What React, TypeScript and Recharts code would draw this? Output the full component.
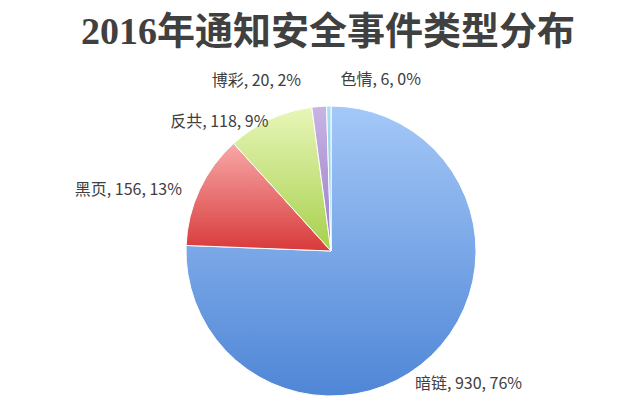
import { PieChart, Pie, Cell } from "recharts";

const categories = ["暗链", "黑页", "反共", "博彩", "色情"];
const counts = [930, 156, 118, 20, 6];
const percentLabels = ["76%", "13%", "9%", "2%", "0%"];
const gradients = [
  ["#a4c8f8", "#4f86d6"],
  ["#f8a8a8", "#d83a3a"],
  ["#e8f6b8", "#a6d04c"],
  ["#c8b4e4", "#9a7cc8"],
  ["#a8e0f0", "#62c0dc"],
];

const data = categories.map((name, i) => ({ name, value: counts[i], pct: percentLabels[i] }));

// per-slice label nudges
const nudges = [
  { dx: -34, dy: 16, anchor: "start" },
  { dx: 5, dy: 16, anchor: "end" },
  { dx: 9, dy: 30, anchor: "end" },
  { dx: -16, dy: 4, anchor: "end" },
  { dx: 12, dy: 4, anchor: "start" },
];

const RAD = Math.PI / 180;

function renderLabel(props: any) {
  const { cx, cy, midAngle, outerRadius, index } = props;
  const r = outerRadius + 25;
  const x = cx + r * Math.cos(-midAngle * RAD);
  const y = cy + r * Math.sin(-midAngle * RAD);
  const n = nudges[index];
  const d = data[index];
  return (
    <text
      x={x + n.dx}
      y={y + n.dy}
      textAnchor={n.anchor}
      fill="#404040"
      fontSize={16}
      fontFamily="'Noto Sans CJK SC', sans-serif"
    >
      {`${d.name}, ${d.value}, ${d.pct}`}
    </text>
  );
}

export default function App() {
  return (
    <div style={{ position: "absolute", left: 0, top: 0, width: 639, height: 413, background: "#fff" }}>
      <PieChart width={639} height={413}>
        <defs>
          {gradients.map((g, i) => (
            <linearGradient key={i} id={`g${i}`} x1="0" x2="0" y1="0" y2="1">
              <stop offset="0%" stopColor={g[0]} />
              <stop offset="100%" stopColor={g[1]} />
            </linearGradient>
          ))}
        </defs>
        <text
          x={328}
          y={44}
          textAnchor="middle"
          fill="#404040"
          fontSize={38}
          fontWeight="bold"
          fontFamily="'Liberation Serif', 'Noto Sans CJK SC', serif"
        >
          2016年通知安全事件类型分布
        </text>
        <Pie
          data={data}
          dataKey="value"
          cx={326}
          cy={246}
          outerRadius={145}
          startAngle={90}
          endAngle={-270}
          stroke="#ffffff"
          strokeWidth={1}
          label={renderLabel}
          labelLine={false}
          isAnimationActive={false}
        >
          {data.map((d, i) => (
            <Cell key={d.name} fill={`url(#g${i})`} />
          ))}
        </Pie>
      </PieChart>
    </div>
  );
}
